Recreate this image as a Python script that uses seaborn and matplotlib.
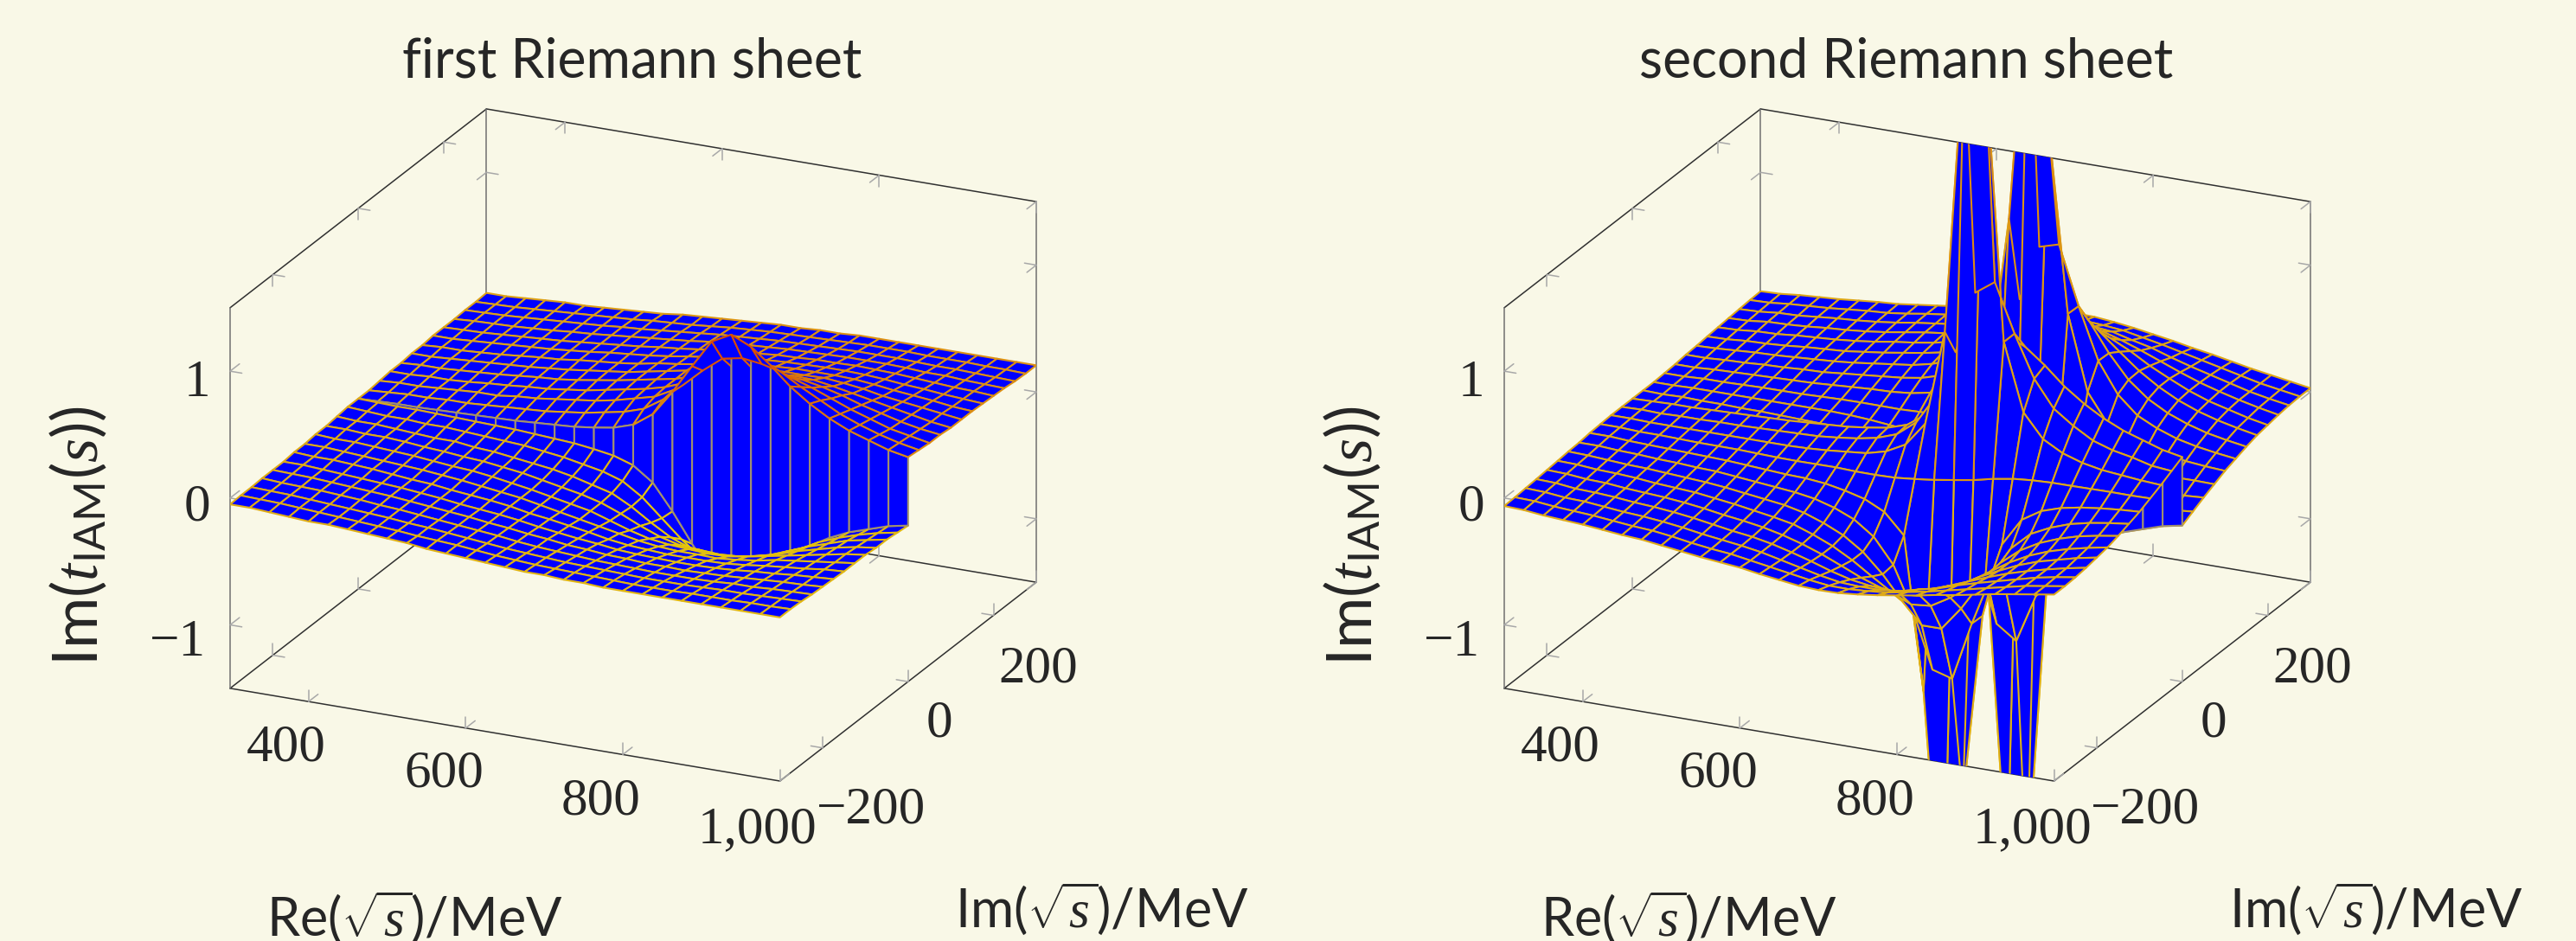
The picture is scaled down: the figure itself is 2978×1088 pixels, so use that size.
#!/usr/bin/env python3
# -*- coding: utf-8 -*-

import numpy as np
import matplotlib
matplotlib.use('Agg')
import matplotlib.pyplot as plt
import seaborn as sns
from matplotlib.colors import to_rgba
from matplotlib.patches import Polygon
from mpl_toolkits.mplot3d import proj3d

# ------------------------------------------------------------------------------
# values
# ------------------------------------------------------------------------------

re_values = [300, 325, 350, 375, 400, 425, 450, 475, 500, 525, 550, 575, 600, 625, 650,
             675, 700, 725, 750, 775, 800, 825, 850, 875, 900, 925, 950, 975, 1000]
im_values = [0, 25, 50, 75, 100, 125, 150, 175, 200, 225, 250, 275, 300]

# Im t on the sheet with no pole in reach, rows follow im_values
open_half = [
    [.00, .005, .01, .01, .015, .02, .025, .03, .035, .045, .055, .065, .085, .11, .16, .27, .47, .70, .92, 1.0, .93, .81, .67, .56, .47, .40, .35, .30, .27],
    [.00, .01, .02, .02, .03, .03, .04, .05, .06, .07, .09, .11, .14, .17, .22, .32, .46, .60, .72, .75, .73, .69, .60, .52, .44, .38, .33, .29, .26],
    [.01, .02, .02, .03, .04, .05, .05, .07, .08, .10, .12, .14, .17, .21, .25, .33, .43, .52, .58, .60, .60, .58, .53, .47, .41, .36, .31, .28, .25],
    [.02, .02, .03, .03, .04, .055, .065, .08, .09, .11, .13, .16, .19, .22, .26, .32, .39, .45, .49, .50, .51, .50, .47, .43, .38, .34, .30, .27, .25],
    [.02, .03, .03, .04, .05, .06, .075, .09, .10, .12, .145, .17, .20, .23, .26, .31, .36, .40, .42, .43, .44, .435, .41, .38, .35, .32, .29, .26, .24],
    [.03, .03, .04, .05, .06, .07, .08, .095, .11, .13, .15, .17, .20, .23, .26, .29, .32, .35, .37, .38, .38, .385, .37, .35, .32, .30, .28, .26, .24],
    [.03, .04, .04, .05, .06, .075, .09, .10, .12, .135, .15, .17, .20, .22, .245, .27, .30, .32, .33, .34, .34, .34, .335, .32, .30, .285, .27, .25, .24],
    [.04, .04, .05, .06, .07, .08, .09, .105, .12, .14, .155, .17, .19, .215, .235, .255, .27, .29, .30, .305, .31, .31, .305, .295, .28, .27, .255, .245, .235],
    [.04, .045, .05, .06, .07, .08, .09, .105, .12, .135, .15, .17, .185, .205, .22, .24, .25, .265, .27, .28, .28, .285, .28, .275, .265, .255, .245, .24, .23],
    [.04, .05, .055, .06, .07, .08, .095, .105, .12, .135, .15, .165, .18, .20, .215, .225, .235, .245, .25, .255, .26, .26, .26, .255, .245, .245, .235, .23, .225],
    [.045, .05, .055, .065, .075, .085, .095, .105, .12, .13, .145, .16, .175, .19, .20, .21, .22, .225, .23, .235, .24, .24, .24, .235, .23, .23, .225, .22, .215],
    [.045, .05, .055, .065, .075, .085, .095, .105, .115, .13, .14, .15, .165, .18, .19, .20, .205, .21, .215, .22, .225, .225, .225, .22, .22, .22, .215, .215, .21],
    [.05, .05, .06, .07, .08, .08, .09, .10, .11, .12, .14, .15, .16, .17, .18, .19, .19, .20, .20, .21, .21, .21, .21, .21, .21, .21, .21, .21, .21],
]

# Im t on the sheet with the pole, rows follow -im_values
pole_half = [
    [.00, .005, .01, .01, .015, .02, .025, .03, .035, .045, .055, .065, .085, .11, .16, .27, .47, .70, .92, 1.0, .93, .81, .67, .56, .47, .40, .35, .30, .27],
    [.00, .005, .00, .005, .005, .01, .01, .015, .02, .025, .03, .045, .065, .095, .15, .27, .50, .875, 1.37, 1.48, 1.10, .77, .56, .45, .36, .31, .28, .24, .225],
    [.00, .00, -.005, -.005, -.005, -.005, -.005, -.005, -.005, -.005, .00, .01, .025, .04, .08, .16, .35, 1.1, 3.4, 3.4, 1.10, .57, .385, .30, .25, .22, .205, .19, .18],
    [-.005, -.005, -.013, -.013, -.017, -.021, -.022, -.023, -.028, -.033, -.035, -.034, -.033, -.039, -.04, -.036, -.02, .00, .024, .05, .086, .112, .126, .133, .134, .136, .138, .137, .14],
    [-.01, -.01, -.02, -.025, -.03, -.035, -.04, -.045, -.055, -.065, -.075, -.08, -.095, -.125, -.165, -.24, -.40, -1.6, -3.6, -2.4, -.93, -.34, -.12, -.025, .025, .055, .075, .09, .10],
    [-.02, -.02, -.03, -.035, -.045, -.05, -.06, -.065, -.08, -.095, -.11, -.125, -.15, -.195, -.26, -.37, -.565, -.90, -1.34, -1.385, -.925, -.52, -.28, -.14, -.065, -.01, .025, .05, .07],
    [-.025, -.03, -.04, -.05, -.055, -.065, -.075, -.085, -.10, -.12, -.14, -.16, -.195, -.25, -.32, -.425, -.575, -.76, -.925, -.925, -.74, -.515, -.33, -.205, -.12, -.06, -.015, .015, .04],
    [-.033, -.037, -.05, -.055, -.065, -.08, -.09, -.10, -.12, -.14, -.165, -.19, -.22, -.275, -.34, -.425, -.527, -.625, -.695, -.68, -.59, -.46, -.335, -.235, -.155, -.095, -.05, -.015, .015],
    [-.04, -.045, -.06, -.065, -.08, -.09, -.10, -.115, -.135, -.16, -.18, -.205, -.24, -.285, -.34, -.405, -.472, -.525, -.55, -.535, -.475, -.40, -.31, -.235, -.165, -.11, -.07, -.03, .00],
    [-.047, -.052, -.07, -.075, -.085, -.10, -.11, -.125, -.145, -.17, -.195, -.215, -.245, -.285, -.33, -.38, -.421, -.445, -.455, -.44, -.395, -.34, -.28, -.22, -.165, -.12, -.08, -.045, -.015],
    [-.053, -.059, -.075, -.08, -.095, -.11, -.12, -.135, -.155, -.18, -.20, -.22, -.245, -.28, -.315, -.35, -.377, -.385, -.385, -.37, -.33, -.295, -.245, -.20, -.16, -.12, -.08, -.05, -.025],
    [-.059, -.064, -.08, -.09, -.10, -.115, -.13, -.14, -.16, -.185, -.205, -.22, -.245, -.27, -.295, -.32, -.339, -.34, -.33, -.315, -.285, -.255, -.22, -.185, -.15, -.115, -.08, -.055, -.03],
    [-.063, -.069, -.085, -.095, -.105, -.12, -.135, -.145, -.165, -.185, -.205, -.22, -.235, -.26, -.28, -.30, -.308, -.305, -.29, -.27, -.245, -.22, -.19, -.165, -.135, -.105, -.08, -.055, -.03],
]

x_ticks = [400, 600, 800, 1000]
y_ticks = [-200, 0, 200]
z_ticks = [-1, 0, 1]

titles = ['first Riemann sheet', 'second Riemann sheet']

# ------------------------------------------------------------------------------
# look
# ------------------------------------------------------------------------------

BG = '#F9F8E7'
W, H = 2978, 1088
XLIM, YLIM, ZLIM = (300, 1000), (-300, 300), (-1.5, 1.5)

sns.set_style('white', {'figure.facecolor': BG, 'axes.facecolor': 'none'})
plt.rcParams['font.family'] = ['Liberation Serif', 'DejaVu Sans']
plt.rcParams['mathtext.fontset'] = 'custom'
plt.rcParams['mathtext.rm'] = 'Lato'
plt.rcParams['mathtext.it'] = 'Liberation Serif:italic'

mesh_cmap = sns.blend_palette(['#ECE400', '#DDA818', '#D83A00'], as_cmap=True)


def px(x, y):
    return x / W, 1 - y / H


def hull_px(ax):
    xs, ys, zs = [], [], []
    for a in XLIM:
        for b in YLIM:
            for c in ZLIM:
                xs.append(a); ys.append(b); zs.append(c)
    u, v, _ = proj3d.proj_transform(np.array(xs), np.array(ys), np.array(zs), ax.get_proj())
    return ax.transData.transform(np.column_stack([u, v]))


def fit_axes(ax, left, right, top, bottom):
    # move and scale the axes until the drawn box lands where the reference has it
    size = 1000.0
    cx, cy = (left + right) / 2, H - (top + bottom) / 2
    for _ in range(4):
        ax.set_position([(cx - size / 2) / W, (cy - size / 2) / H, size / W, size / H])
        ax.apply_aspect()
        p = hull_px(ax)
        now_w = p[:, 0].max() - p[:, 0].min()
        size *= (right - left) / now_w
        ax.set_position([(cx - size / 2) / W, (cy - size / 2) / H, size / W, size / H])
        ax.apply_aspect()
        p = hull_px(ax)
        cx += (left + right) / 2 - (p[:, 0].max() + p[:, 0].min()) / 2
        cy += (H - (top + bottom) / 2) - (p[:, 1].max() + p[:, 1].min()) / 2


def draw_box(ax):
    x0, x1 = XLIM
    y0, y1 = YLIM
    z0, z1 = ZLIM
    dark = dict(color='#303030', lw=1.1, zorder=1, clip_on=False)
    soft = dict(color='#707070', lw=1.1, zorder=1, clip_on=False)
    for a, b in [((x0, y0, z0), (x1, y0, z0)), ((x1, y0, z0), (x1, y1, z0)),
                 ((x0, y0, z0), (x0, y1, z0)), ((x0, y1, z0), (x1, y1, z0)),
                 ((x0, y0, z1), (x0, y1, z1)), ((x0, y1, z1), (x1, y1, z1))]:
        ax.plot(*zip(a, b), **dark)
    for a, b in [((x0, y0, z0), (x0, y0, z1)), ((x1, y1, z0), (x1, y1, z1)),
                 ((x0, y1, z0), (x0, y1, z1))]:
        ax.plot(*zip(a, b), **soft)

    # the little grey V shaped ticks on every edge
    tick = dict(color='#A8A8A8', lw=1.1, zorder=1, clip_on=False)
    lx, ly, lz = 15, 22, .09
    for t in x_ticks:
        for y, z, sy, sz in [(y0, z0, 1, 1), (y1, z0, -1, 1), (y1, z1, -1, -1)]:
            ax.plot([t, t], [y, y + sy * ly], [z, z], **tick)
            ax.plot([t, t], [y, y], [z, z + sz * lz], **tick)
    for t in y_ticks:
        for x, z, sx, sz in [(x0, z0, 1, 1), (x1, z0, -1, 1), (x0, z1, 1, -1)]:
            ax.plot([x, x + sx * lx], [t, t], [z, z], **tick)
            ax.plot([x, x], [t, t], [z, z + sz * lz], **tick)
    for t in z_ticks:
        for x, y, sx, sy in [(x0, y0, 1, 1), (x1, y1, -1, -1), (x0, y1, 1, -1)]:
            ax.plot([x, x + sx * lx], [y, y], [t, t], **tick)
            ax.plot([x, x], [y, y + sy * ly], [t, t], **tick)


def draw_surface(ax, upper, lower, color_range):
    re = np.array(re_values, dtype=float)
    im = np.array(im_values, dtype=float)
    y = np.concatenate([-im[::-1], im])
    z = np.vstack([lower[::-1], upper])
    X, Y = np.meshgrid(re, y)
    surf = ax.plot_surface(X, Y, z, rstride=1, cstride=1, color=(0, 0, 1), shade=False,
                           linewidth=1.5, antialiased=True, zorder=2)
    mean = (z[:-1, :-1] + z[1:, :-1] + z[:-1, 1:] + z[1:, 1:]) / 4
    edges = mesh_cmap(np.clip(mean / color_range * .5 + .5, 0, 1))
    # the wall along the cut has thin greyish lines
    edges[len(im) - 1, :] = to_rgba('#A09070')
    surf.set_edgecolor(edges.reshape(-1, 4))
    return surf


def clip_to_box(ax, surf):
    x0, x1 = XLIM
    y0, y1 = YLIM
    z0, z1 = ZLIM
    xs = [x0, x1, x1, x1, x0, x0]
    ys = [y0, y0, y1, y1, y1, y0]
    zs = [z0, z0, z0, z1, z1, z1]
    u, v, _ = proj3d.proj_transform(np.array(xs), np.array(ys), np.array(zs), ax.get_proj())
    surf.set_clip_path(Polygon(np.column_stack([u, v]), closed=True, transform=ax.transData))


def panel_text(dx, title):
    fig.text(*px(731 + dx, 72), title, family='Lato', fontsize=45, ha='center', va='center')
    size = 44
    labels = [('400', 331, 865), ('600', 513, 895), ('800', 695, 927), ('1,000', 876, 959),
              ('\u2212200', 1007, 937), ('0', 1086, 837), ('200', 1200, 774),
              ('1', 228, 443), ('0', 228, 587), ('\u22121', 205, 743)]
    for s, x, y in labels:
        fig.text(*px(x + dx, y), s, fontsize=size, ha='center', va='center')
    fig.text(*px(479 + dx, 1060), r'Re$(\sqrt{s})$/MeV', family='Lato', fontsize=44, ha='center', va='center')
    fig.text(*px(1274 + dx, 1050), r'Im$(\sqrt{s})$/MeV', family='Lato', fontsize=44, ha='center', va='center')
    fig.text(*px(91 + dx, 620), r'Im$(t_{\mathrm{IAM}}(s))$', family='Lato', fontsize=52,
             ha='center', va='center', rotation=90)


# ------------------------------------------------------------------------------
# figure
# ------------------------------------------------------------------------------

fig = plt.figure(figsize=(W / 100, H / 100), dpi=100, facecolor=BG)

open_z = np.array(open_half)
pole_z = np.array(pole_half)
sheets = [(open_z, -open_z, 1.0), (-pole_z, pole_z, 9.0)]

for k, (upper, lower, color_range) in enumerate(sheets):
    dx = 1473 * k
    ax = fig.add_subplot(1, 2, k + 1, projection='3d', proj_type='ortho',
                         computed_zorder=False)
    ax.view_init(elev=21.2, azim=-65)
    ax.set_xlim(*XLIM)
    ax.set_ylim(*YLIM)
    ax.set_zlim(*ZLIM)
    ax.set_box_aspect((1, 1, .673))
    ax.set_axis_off()
    ax.patch.set_alpha(0)
    fit_axes(ax, 266 + dx, 1198 + dx, 127, 902)
    draw_box(ax)
    surf = draw_surface(ax, upper, lower, color_range)
    clip_to_box(ax, surf)
    panel_text(dx, titles[k])

plt.savefig('out.png', dpi=100, facecolor=BG)
plt.close()
